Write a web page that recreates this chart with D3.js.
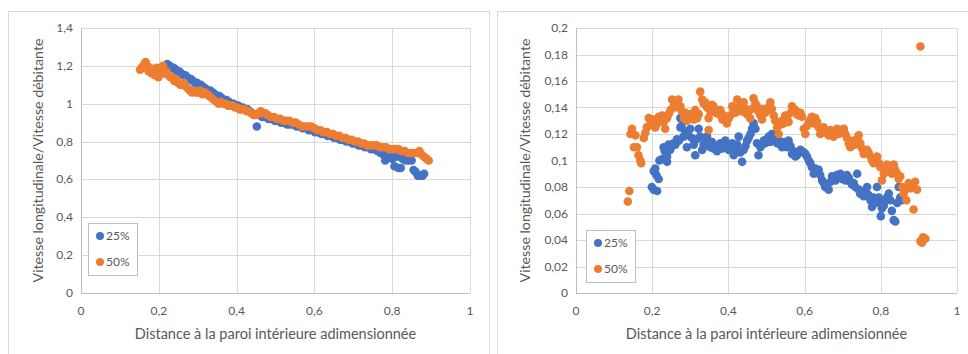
<!DOCTYPE html>
<html>
<head>
<meta charset="utf-8">
<script src="https://cdn.jsdelivr.net/npm/d3@7"></script>
<style>
  body { margin: 0; background: #fff; }
  svg { display: block; }
  text { font-family: Lato, "Open Sans", sans-serif; fill: #595959; }
</style>
</head>
<body>
<svg id="chart" width="968" height="354"></svg>
<script>
// ---- data ----
const seriesNames = ['25%', '50%'];
const xTicks = [0, 0.2, 0.4, 0.6, 0.8, 1];
const yTicksLeft = [0, 0.2, 0.4, 0.6, 0.8, 1, 1.2, 1.4];
const yTicksRight = [0, 0.02, 0.04, 0.06, 0.08, 0.1, 0.12, 0.14, 0.16, 0.18, 0.2];

const left25 = [
  [0.222,1.21],[0.228,1.20],[0.233,1.19],[0.238,1.19],[0.243,1.18],[0.248,1.17],[0.253,1.17],[0.258,1.16],
  [0.263,1.15],[0.268,1.15],[0.273,1.14],[0.278,1.13],[0.283,1.13],[0.288,1.12],[0.293,1.11],[0.298,1.11],
  [0.303,1.10],[0.308,1.10],[0.314,1.09],[0.320,1.08],[0.326,1.07],[0.332,1.07],[0.338,1.06],[0.344,1.05],
  [0.350,1.04],[0.356,1.04],[0.362,1.03],[0.368,1.02],[0.374,1.02],[0.380,1.01],[0.386,1.00],[0.392,1.00],
  [0.398,0.99],[0.404,0.99],[0.410,0.98],[0.416,0.98],[0.422,0.97],[0.428,0.97],[0.434,0.96],[0.440,0.95],
  [0.452,0.88],[0.458,0.94],[0.466,0.93],[0.474,0.93],[0.482,0.92],[0.490,0.92],[0.498,0.91],[0.506,0.91],
  [0.514,0.90],[0.522,0.90],[0.530,0.89],[0.538,0.89],[0.546,0.89],[0.554,0.88],[0.562,0.88],[0.570,0.87],
  [0.578,0.87],[0.586,0.86],[0.594,0.86],[0.602,0.85],[0.610,0.85],[0.618,0.84],[0.626,0.84],[0.634,0.83],
  [0.642,0.83],[0.650,0.82],[0.658,0.82],[0.666,0.81],[0.674,0.81],[0.682,0.80],[0.690,0.80],[0.698,0.79],
  [0.706,0.79],[0.714,0.78],[0.722,0.78],[0.730,0.77],[0.738,0.77],[0.746,0.76],[0.754,0.76],[0.762,0.75],
  [0.770,0.74],[0.778,0.73],[0.782,0.70],[0.788,0.72],[0.795,0.73],[0.800,0.71],[0.806,0.67],[0.810,0.72],
  [0.816,0.66],[0.822,0.66],[0.826,0.71],[0.834,0.70],[0.842,0.70],[0.850,0.70],[0.855,0.65],[0.860,0.64],
  [0.866,0.62],[0.872,0.62],[0.878,0.62],[0.882,0.63]
];

const left50 = [
  [0.152,1.18],[0.156,1.19],[0.160,1.20],[0.163,1.21],[0.166,1.22],[0.170,1.20],[0.174,1.17],[0.178,1.19],
  [0.182,1.16],[0.186,1.18],[0.190,1.15],[0.195,1.19],[0.199,1.14],[0.203,1.17],[0.207,1.19],[0.211,1.20],
  [0.215,1.16],[0.220,1.17],[0.225,1.15],[0.230,1.14],[0.235,1.14],[0.240,1.12],[0.245,1.13],[0.250,1.11],
  [0.255,1.10],[0.260,1.10],[0.265,1.11],[0.270,1.09],[0.275,1.08],[0.280,1.07],[0.285,1.06],[0.290,1.07],
  [0.295,1.06],[0.300,1.06],[0.306,1.07],[0.312,1.05],[0.318,1.06],[0.324,1.05],[0.330,1.04],[0.336,1.03],
  [0.342,1.02],[0.348,1.01],[0.354,1.00],[0.360,1.01],[0.366,1.00],[0.372,1.00],[0.378,0.99],[0.384,0.99],
  [0.390,0.99],[0.396,0.98],[0.402,0.98],[0.408,0.97],[0.414,0.97],[0.420,0.97],[0.426,0.96],[0.432,0.96],
  [0.438,0.95],[0.444,0.94],[0.450,0.94],[0.456,0.95],[0.462,0.96],[0.468,0.95],[0.474,0.95],[0.480,0.94],
  [0.488,0.93],[0.496,0.93],[0.504,0.92],[0.512,0.92],[0.520,0.91],[0.528,0.91],[0.536,0.91],[0.544,0.90],
  [0.552,0.90],[0.560,0.89],[0.568,0.88],[0.576,0.88],[0.584,0.88],[0.592,0.88],[0.600,0.87],[0.608,0.86],
  [0.616,0.86],[0.624,0.85],[0.632,0.85],[0.640,0.84],[0.648,0.84],[0.656,0.83],[0.664,0.83],[0.672,0.82],
  [0.680,0.82],[0.688,0.81],[0.696,0.81],[0.704,0.80],[0.712,0.80],[0.720,0.79],[0.728,0.79],[0.736,0.78],
  [0.744,0.78],[0.752,0.78],[0.760,0.78],[0.768,0.77],[0.776,0.77],[0.784,0.77],[0.792,0.76],[0.800,0.76],
  [0.808,0.76],[0.816,0.76],[0.824,0.75],[0.832,0.75],[0.840,0.74],[0.848,0.74],[0.856,0.74],[0.864,0.74],
  [0.870,0.75],[0.876,0.73],[0.882,0.72],[0.888,0.71],[0.894,0.70]
];

const right25 = [
  [0.199,0.080],[0.204,0.078],[0.213,0.077],[0.204,0.092],[0.208,0.094],[0.211,0.089],[0.217,0.086],[0.219,0.100],
  [0.225,0.101],[0.230,0.110],[0.233,0.107],[0.239,0.099],[0.239,0.103],[0.243,0.112],[0.247,0.108],[0.252,0.111],
  [0.256,0.113],[0.261,0.112],[0.265,0.116],[0.270,0.115],[0.274,0.132],[0.277,0.126],[0.274,0.125],[0.282,0.118],
  [0.287,0.122],[0.291,0.110],[0.295,0.119],[0.300,0.124],[0.304,0.117],[0.309,0.112],[0.313,0.104],[0.317,0.116],
  [0.322,0.124],[0.326,0.118],[0.331,0.108],[0.335,0.112],[0.339,0.115],[0.344,0.118],[0.348,0.111],[0.353,0.110],
  [0.357,0.114],[0.361,0.109],[0.366,0.111],[0.370,0.107],[0.375,0.110],[0.379,0.113],[0.384,0.109],[0.388,0.112],
  [0.392,0.115],[0.397,0.112],[0.401,0.108],[0.405,0.110],[0.410,0.113],[0.414,0.104],[0.418,0.109],[0.423,0.112],
  [0.427,0.118],[0.431,0.106],[0.436,0.099],[0.440,0.108],[0.445,0.111],[0.449,0.115],[0.453,0.117],[0.458,0.120],
  [0.462,0.124],[0.466,0.128],[0.471,0.124],[0.475,0.113],[0.479,0.104],[0.484,0.110],[0.488,0.112],[0.493,0.115],
  [0.497,0.113],[0.501,0.116],[0.506,0.118],[0.510,0.114],[0.514,0.120],[0.519,0.117],[0.523,0.118],[0.528,0.113],
  [0.532,0.115],[0.536,0.112],[0.541,0.110],[0.545,0.114],[0.549,0.113],[0.554,0.110],[0.558,0.115],[0.563,0.111],
  [0.567,0.105],[0.571,0.107],[0.576,0.103],[0.580,0.104],[0.584,0.106],[0.589,0.108],[0.593,0.107],[0.598,0.106],
  [0.602,0.105],[0.606,0.103],[0.611,0.100],[0.615,0.098],[0.619,0.095],[0.624,0.090],[0.628,0.094],[0.633,0.092],
  [0.637,0.093],[0.641,0.089],[0.646,0.085],[0.650,0.083],[0.654,0.080],[0.659,0.082],[0.663,0.078],[0.668,0.084],
  [0.672,0.088],[0.676,0.086],[0.681,0.085],[0.685,0.089],[0.690,0.087],[0.694,0.090],[0.698,0.086],[0.703,0.088],
  [0.707,0.085],[0.711,0.089],[0.716,0.087],[0.720,0.084],[0.724,0.082],[0.729,0.083],[0.733,0.080],[0.738,0.090],
  [0.742,0.078],[0.746,0.075],[0.751,0.077],[0.755,0.073],[0.760,0.076],[0.764,0.080],[0.768,0.074],[0.773,0.070],
  [0.777,0.065],[0.781,0.072],[0.786,0.068],[0.790,0.080],[0.795,0.072],[0.799,0.068],[0.800,0.058],[0.803,0.064],
  [0.808,0.066],[0.812,0.070],[0.816,0.072],[0.821,0.075],[0.825,0.070],[0.829,0.062],[0.834,0.055],[0.838,0.054],
  [0.843,0.068],[0.847,0.080],[0.851,0.072],[0.856,0.070]
];

const right50 = [
  [0.136,0.069],[0.140,0.077],[0.143,0.120],[0.147,0.124],[0.156,0.119],[0.152,0.110],[0.160,0.110],[0.164,0.104],
  [0.169,0.100],[0.171,0.098],[0.178,0.117],[0.182,0.121],[0.186,0.125],[0.191,0.132],[0.195,0.127],[0.199,0.129],
  [0.204,0.131],[0.208,0.125],[0.213,0.128],[0.217,0.133],[0.222,0.130],[0.226,0.134],[0.230,0.129],[0.234,0.124],
  [0.239,0.132],[0.243,0.135],[0.248,0.138],[0.252,0.146],[0.256,0.141],[0.261,0.143],[0.265,0.140],[0.269,0.146],
  [0.274,0.141],[0.278,0.137],[0.283,0.132],[0.287,0.136],[0.291,0.130],[0.296,0.132],[0.300,0.135],[0.304,0.134],
  [0.309,0.131],[0.313,0.138],[0.318,0.132],[0.322,0.135],[0.326,0.152],[0.331,0.146],[0.335,0.143],[0.339,0.144],
  [0.344,0.140],[0.348,0.132],[0.348,0.123],[0.353,0.137],[0.357,0.142],[0.361,0.141],[0.366,0.136],[0.370,0.138],
  [0.375,0.135],[0.379,0.138],[0.384,0.131],[0.388,0.134],[0.392,0.130],[0.396,0.128],[0.401,0.132],[0.405,0.134],
  [0.410,0.141],[0.414,0.138],[0.418,0.136],[0.423,0.146],[0.427,0.140],[0.431,0.141],[0.436,0.137],[0.440,0.144],
  [0.445,0.139],[0.449,0.135],[0.453,0.137],[0.457,0.132],[0.462,0.139],[0.466,0.147],[0.471,0.143],[0.475,0.141],
  [0.479,0.137],[0.484,0.134],[0.488,0.131],[0.492,0.139],[0.497,0.136],[0.501,0.138],[0.506,0.140],[0.510,0.144],
  [0.514,0.139],[0.519,0.134],[0.523,0.130],[0.528,0.125],[0.532,0.120],[0.536,0.127],[0.541,0.130],[0.545,0.128],
  [0.549,0.134],[0.554,0.132],[0.558,0.129],[0.563,0.136],[0.567,0.141],[0.571,0.139],[0.576,0.138],[0.580,0.135],
  [0.584,0.134],[0.589,0.136],[0.593,0.133],[0.598,0.124],[0.602,0.120],[0.606,0.126],[0.611,0.129],[0.615,0.131],
  [0.619,0.133],[0.624,0.128],[0.628,0.132],[0.633,0.129],[0.637,0.125],[0.641,0.120],[0.646,0.123],[0.650,0.125],
  [0.655,0.121],[0.659,0.122],[0.663,0.119],[0.668,0.123],[0.672,0.121],[0.676,0.118],[0.681,0.121],[0.685,0.124],
  [0.690,0.120],[0.694,0.123],[0.698,0.121],[0.703,0.124],[0.707,0.120],[0.711,0.117],[0.716,0.113],[0.720,0.110],
  [0.724,0.113],[0.729,0.115],[0.733,0.112],[0.738,0.116],[0.742,0.119],[0.746,0.113],[0.751,0.109],[0.755,0.105],
  [0.760,0.107],[0.764,0.108],[0.768,0.106],[0.773,0.103],[0.777,0.100],[0.781,0.098],[0.786,0.101],[0.790,0.103],
  [0.795,0.098],[0.799,0.095],[0.803,0.085],[0.808,0.090],[0.812,0.093],[0.816,0.097],[0.821,0.094],[0.825,0.093],
  [0.829,0.090],[0.834,0.097],[0.838,0.093],[0.843,0.090],[0.847,0.086],[0.851,0.088],[0.856,0.080],[0.860,0.075],
  [0.864,0.078],[0.867,0.070],[0.873,0.083],[0.877,0.079],[0.882,0.080],[0.886,0.063],[0.890,0.084],[0.895,0.078],
  [0.904,0.186],[0.904,0.039],[0.908,0.038],[0.911,0.042],[0.917,0.041]
];

const colors = ['#4472C4', '#ED7D31'];
const xTitle = 'Distance à la paroi intérieure adimensionnée';
const yTitle = 'Vitesse longitudinale/Vitesse débitante';

const svg = d3.select('#chart');
const fmt = d => String(d).replace('.', ',');

/**
 * Draw one scatter panel
 * @param {Object} cfg
 */
function drawPanel(cfg) {
    const g = svg.append('g');

    // panel frame
    g.append('rect')
        .attr('x', cfg.frame[0] + 0.5).attr('y', cfg.frame[1] + 0.5)
        .attr('width', cfg.frame[2]).attr('height', cfg.frame[3])
        .attr('fill', '#fff').attr('stroke', '#d9d9d9');

    const x = d3.scaleLinear().domain([0, 1]).range([cfg.plot.left, cfg.plot.right]);
    const y = d3.scaleLinear().domain([0, cfg.yMax]).range([cfg.plot.bottom, cfg.plot.top]);

    // gridlines
    g.selectAll('.vg').data(xTicks).join('line')
        .attr('x1', d => Math.round(x(d)) + 0.5).attr('x2', d => Math.round(x(d)) + 0.5)
        .attr('y1', cfg.plot.top).attr('y2', cfg.plot.bottom)
        .attr('stroke', '#d9d9d9');
    g.selectAll('.hg').data(cfg.yTicks).join('line')
        .attr('y1', d => Math.round(y(d)) + 0.5).attr('y2', d => Math.round(y(d)) + 0.5)
        .attr('x1', cfg.plot.left).attr('x2', cfg.plot.right)
        .attr('stroke', '#d9d9d9');

    // axis lines
    g.append('line')
        .attr('x1', cfg.plot.left + 0.5).attr('x2', cfg.plot.left + 0.5)
        .attr('y1', cfg.plot.top).attr('y2', cfg.plot.bottom)
        .attr('stroke', '#bfbfbf');
    g.append('line')
        .attr('x1', cfg.plot.left).attr('x2', cfg.plot.right)
        .attr('y1', Math.round(y(0)) + 0.5).attr('y2', Math.round(y(0)) + 0.5)
        .attr('stroke', '#bfbfbf');

    // tick labels
    g.selectAll('.xt').data(xTicks).join('text')
        .attr('x', d => x(d)).attr('y', cfg.plot.bottom + 22)
        .attr('text-anchor', 'middle').attr('font-size', 12)
        .text(fmt);
    g.selectAll('.yt').data(cfg.yTicks).join('text')
        .attr('x', cfg.plot.left - 8).attr('y', d => y(d) + 4)
        .attr('text-anchor', 'end').attr('font-size', 12)
        .text(fmt);

    // titles
    g.append('text')
        .attr('x', (cfg.plot.left + cfg.plot.right) / 2).attr('y', cfg.plot.bottom + 46)
        .attr('text-anchor', 'middle').attr('font-size', 14.5)
        .text(xTitle);
    g.append('text')
        .attr('transform', `translate(${cfg.yTitleX}, ${(cfg.plot.top + cfg.plot.bottom) / 2}) rotate(-90)`)
        .attr('text-anchor', 'middle').attr('font-size', 14.2)
        .text(yTitle);

    // points
    cfg.series.forEach((data, i) => {
        g.append('g').selectAll('circle').data(data).join('circle')
            .attr('cx', d => x(d[0])).attr('cy', d => y(d[1]))
            .attr('r', 4.3).attr('fill', colors[i]);
    });

    // legend
    const lg = g.append('g').attr('transform', `translate(${cfg.legend[0]}, ${cfg.legend[1]})`);
    lg.append('rect').attr('x', 0.5).attr('y', 0.5).attr('width', 49).attr('height', 52)
        .attr('fill', '#fff').attr('stroke', '#bfbfbf');
    seriesNames.forEach((name, i) => {
        lg.append('circle').attr('cx', 12).attr('cy', 13 + i * 26).attr('r', 4).attr('fill', colors[i]);
        lg.append('text').attr('x', 18).attr('y', 17 + i * 26).attr('font-size', 12).text(name);
    });
}

drawPanel({
    frame: [8, 11, 481, 360],
    plot: {left: 81, right: 470, top: 28, bottom: 293},
    yMax: 1.4, yTicks: yTicksLeft, yTitleX: 43,
    series: [left25, left50],
    legend: [88, 223]
});

drawPanel({
    frame: [497, 11, 480, 360],
    plot: {left: 576, right: 957, top: 28, bottom: 293},
    yMax: 0.2, yTicks: yTicksRight, yTitleX: 530,
    series: [right25, right50],
    legend: [586, 230]
});
</script>
</body>
</html>
